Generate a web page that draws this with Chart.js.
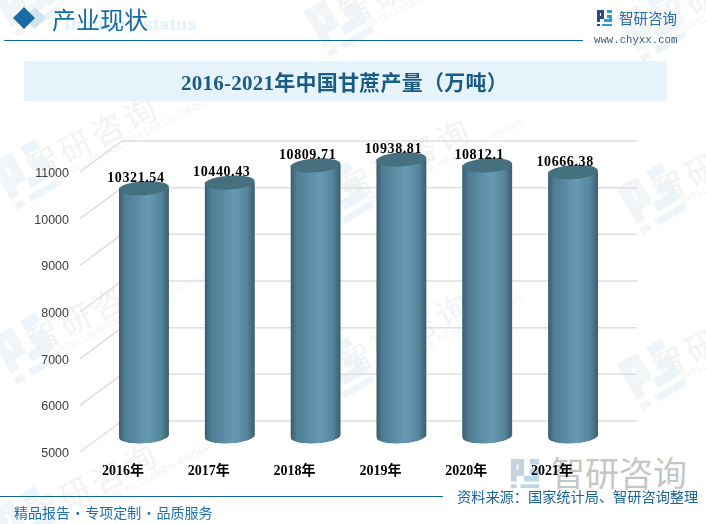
<!DOCTYPE html>
<html>
<head>
<meta charset="utf-8">
<script src="https://cdn.jsdelivr.net/npm/chart.js@4"></script>
<style>
html, body { margin: 0; padding: 0; background: #fff; }
#page { position: relative; width: 706px; height: 524px; overflow: hidden; font-family: "Noto Sans CJK SC", sans-serif; }
#page > * { position: absolute; }
#chart { left: 0; top: 0; z-index: 2; }
.wm { color: #f2f3f4; font-size: 32px; letter-spacing: 4px; transform: translate(-50%, -50%) rotate(-27deg); white-space: nowrap; line-height: 34px; z-index: 0; }
.wm small { display: block; font: 9px "Liberation Sans"; letter-spacing: 0.8px; margin-left: 20px; }
.wi { transform: translate(-50%, -50%) rotate(-30deg); z-index: 0; }
.txt { white-space: nowrap; z-index: 3; line-height: 1; }
</style>
</head>
<body>
<div id="page">
  <!-- header -->
  <div class="txt" style="left:65px;top:15px;font:bold 17px 'Liberation Sans';letter-spacing:0.7px;color:#e2f1fb;z-index:1">Industry status</div>
  <svg style="left:0;top:0;z-index:2" width="60" height="40">
    <polygon points="35,7 46,18 35,29 24,18" fill="#cfe3ef"/>
    <polygon points="24,7 35,18 24,29 13,18" fill="#176ca6"/>
  </svg>
  <div class="txt" style="left:52px;top:7px;font-size:24px;color:#1a6a9e">产业现状</div>
  <div style="left:4px;top:40px;width:579px;height:1px;background:#0f659c;z-index:3"></div>

  <!-- top right logo -->
  <svg style="left:596px;top:9px;z-index:3" width="18" height="18" viewBox="0 0 18 18">
    <path d="M1 1h7v9H4v3H1z M4 4v3h1V4z" fill="#2e4a8c" fill-rule="evenodd"/>
    <path d="M11 1h5v3h-5z M11 6h5v7H8v-3h5V9h-2z" fill="#2f9ad8"/>
    <rect x="1" y="15" width="3" height="2" fill="#2e4a8c"/>
    <rect x="6" y="15" width="10" height="2" fill="#2f9ad8"/>
  </svg>
  <div class="txt" style="left:619px;top:11px;font-size:14.5px;color:#2b6ca3">智研咨询</div>
  <div class="txt" style="left:594px;top:34px;font:10.7px 'Liberation Mono';color:#3d5f80">www.chyxx.com</div>

  <!-- title band -->
  <div style="left:24px;top:61px;width:643px;height:40px;background:#e6f3fb;z-index:1"></div>
  <div class="txt" style="left:23px;width:643px;text-align:center;top:66px;font:bold 21px 'Liberation Serif','Noto Sans CJK SC';letter-spacing:0.25px;color:#1a5c84">2016-2021年中国甘蔗产量（万吨）</div>

  <!-- grey logo bottom right -->
  <svg style="left:509px;top:457px;z-index:1" width="34" height="32" viewBox="0 0 18 17">
    <path d="M1 1h7v9H4v3H1z M4 4v3h1V4z" fill="#c6d0df" fill-rule="evenodd"/>
    <path d="M11 1h5v3h-5z M11 6h5v7H8v-3h5V9h-2z" fill="#bcd6ea"/>
    <rect x="1" y="14.5" width="3" height="2" fill="#c6d0df"/>
    <rect x="6" y="14.5" width="10" height="2" fill="#bcd6ea"/>
  </svg>
  <div class="txt" style="left:551px;top:455px;font-size:34px;color:#c6c6c6;z-index:1">智研咨询</div>

  <!-- footer -->
  <div style="left:0;top:496px;width:443px;height:1px;background:#0f659c;z-index:3"></div>
  <div class="txt" style="left:14px;top:505px;font-size:14px;word-spacing:-2.5px;color:#1f70a8">精品报告 · 专项定制 · 品质服务</div>
  <div class="txt" style="left:457px;top:489px;font-size:14.2px;color:#1a6496">资料来源：国家统计局、智研咨询整理</div>

  <canvas id="chart" width="706" height="524"></canvas>
</div>

<script>
const categories = ["2016年", "2017年", "2018年", "2019年", "2020年", "2021年"];
const output = [10321.54, 10440.43, 10809.71, 10938.81, 10812.1, 10666.38];
const valueLabels = ["10321.54", "10440.43", "10809.71", "10938.81", "10812.1", "10666.38"];
const yMin = 5000;
const yMax = 11000;
const yStep = 1000;

// where the background watermark logos sit, x then y
const watermarkX = [27, 27, 27, 27, 340, 340, 340, 653, 653, 653];
const watermarkY = [0, 173, 347, 520, 20, 195, 370, 25, 197, 373];

// fake 3D depth: how far the back wall sits from the front edge
const depthX = 42;
const depthY = -31;
const barWidth = 50;
const tilt = -0.06;

// lay the watermark tiles down behind everything
const page = document.getElementById("page");
watermarkX.forEach((x, i) => {
    const y = watermarkY[i];
    page.insertAdjacentHTML("afterbegin",
        '<svg class="wi" style="left:' + x + 'px;top:' + y + 'px" width="62" height="58" viewBox="0 0 18 17">' +
        '<path d="M1 1h7v9H4v3H1z M4 4v3h1V4z" fill="#f2f5f8" fill-rule="evenodd"/>' +
        '<path d="M11 1h5v3h-5z M11 6h5v7H8v-3h5V9h-2z" fill="#edf5fa"/>' +
        '<rect x="1" y="14.5" width="3" height="2" fill="#f2f5f8"/>' +
        '<rect x="6" y="14.5" width="10" height="2" fill="#edf5fa"/></svg>' +
        '<div class="wm" style="left:' + (x + 90) + 'px;top:' + (y - 45) + 'px">智研咨询<small>INTELLIGENCE RESEARCH GROUP</small></div>');
});

// cylinder body colour, scripted so each bar gets its own horizontal gradient
function cylinderFill(c) {
    const chart = c.chart;
    if (!chart.chartArea || c.dataIndex === undefined) return "#5f92aa";
    const x = chart.scales.x.getPixelForValue(c.dataIndex);
    const g = chart.ctx.createLinearGradient(x - barWidth / 2, 0, x + barWidth / 2, 0);
    g.addColorStop(0, "#3b5c6d");
    g.addColorStop(0.12, "#4e7d93");
    g.addColorStop(0.58, "#6699b2");
    g.addColorStop(0.84, "#55869c");
    g.addColorStop(1, "#3c5d6d");
    return g;
}

function ellipse(ctx, x, y, ry, fill) {
    ctx.beginPath();
    ctx.ellipse(x, y, barWidth / 2, ry, tilt, 0, Math.PI * 2);
    ctx.fillStyle = fill;
    ctx.fill();
}

const walls = {
    id: "walls",
    beforeDatasetsDraw(chart) {
        const ctx = chart.ctx, y = chart.scales.y, area = chart.chartArea;
        ctx.save();
        ctx.strokeStyle = "#dedede";
        ctx.lineWidth = 1.5;
        y.ticks.forEach(t => {
            const py = y.getPixelForValue(t.value);
            ctx.beginPath();
            ctx.moveTo(area.left, py);
            ctx.lineTo(area.left + depthX, py + depthY);
            ctx.lineTo(area.right + depthX, py + depthY);
            ctx.stroke();
        });
        ctx.restore();
    }
};

const cylinders = {
    id: "cylinders",
    beforeDatasetDraw(chart) {
        const ctx = chart.ctx;
        const bars = chart.getDatasetMeta(0).data;
        const drop = barWidth / 2 * Math.sin(-tilt);
        // bars stand halfway between front edge and back wall
        ctx.save();
        ctx.translate(depthX / 2, depthY / 2);
        // slant the square bottom corners away so they follow the tilted ellipse
        ctx.save();
        ctx.beginPath();
        bars.forEach(bar => {
            ctx.moveTo(bar.x - barWidth / 2, 0);
            ctx.lineTo(bar.x + barWidth / 2, 0);
            ctx.lineTo(bar.x + barWidth / 2, bar.base - drop);
            ctx.lineTo(bar.x - barWidth / 2, bar.base + drop);
            ctx.closePath();
            ctx.moveTo(bar.x + barWidth / 2, bar.base);
            ctx.ellipse(bar.x, bar.base, barWidth / 2, 7, tilt, 0, Math.PI * 2);
        });
        ctx.clip();
        // round off the bottom first so the body sits on it
        bars.forEach((bar, i) => {
            ellipse(ctx, bar.x, bar.base, 7, cylinderFill({ chart, dataIndex: i }));
        });
    },
    afterDatasetDraw(chart) {
        const ctx = chart.ctx;
        ctx.restore();
        chart.getDatasetMeta(0).data.forEach((bar, i) => {
            ellipse(ctx, bar.x, bar.y, 7, "#46707f");
            ctx.fillStyle = "#000";
            ctx.font = "bold 14px 'Liberation Serif'";
            ctx.letterSpacing = "0.6px";
            ctx.textAlign = "center";
            ctx.textBaseline = "middle";
            ctx.fillText(valueLabels[i], bar.x - 8, bar.y - 10);
        });
        ctx.restore();
    }
};

new Chart(document.getElementById("chart"), {
    type: "bar",
    data: {
        labels: categories,
        datasets: [{
            data: output,
            base: yMin,
            backgroundColor: cylinderFill,
            borderWidth: 0,
            barThickness: barWidth,
            clip: false
        }]
    },
    plugins: [walls, cylinders],
    options: {
        responsive: false,
        animation: false,
        layout: { padding: { top: 172, right: 111, left: 0, bottom: 0 } },
        plugins: { legend: { display: false }, title: { display: false }, tooltip: { enabled: false } },
        scales: {
            x: {
                grid: { display: false, drawTicks: false },
                border: { display: false },
                afterFit(s) { s.height = 72; },
                ticks: {
                    padding: 11,
                    maxRotation: 0,
                    color: "#000",
                    font: { family: "'Liberation Serif','Noto Sans CJK SC'", size: 14, weight: "bold" }
                }
            },
            y: {
                min: yMin,
                max: yMax,
                grid: { display: false, drawTicks: false },
                border: { display: false },
                afterFit(s) { s.width = 80; },
                ticks: {
                    stepSize: yStep,
                    padding: 11,
                    labelOffset: 1.5,
                    color: "#404040",
                    font: { family: "'Liberation Sans'", size: 12.5 },
                    callback: v => String(v)
                }
            }
        }
    }
});
</script>
</body>
</html>
